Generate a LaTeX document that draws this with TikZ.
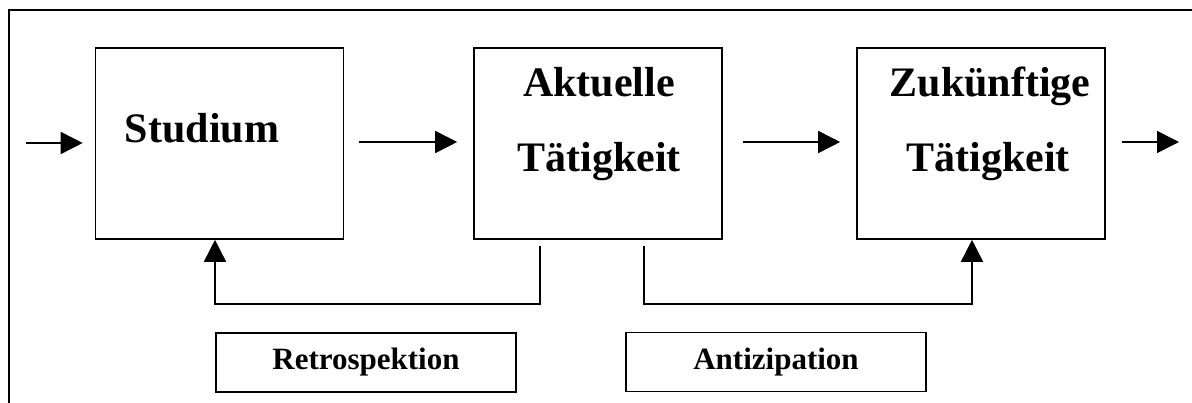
\documentclass[tikz,border=0pt]{standalone}
\usepackage{fontspec}
\setmainfont{Liberation Serif}
\usetikzlibrary{arrows.meta}
\begin{document}
\begin{tikzpicture}[x=1pt,y=-1pt,
  stagebox/.style={draw,line width=1.6pt,minimum width=248pt,minimum height=191pt,inner sep=0pt},
  tagbox/.style={draw,line width=1.4pt,minimum width=300pt,minimum height=59pt,inner sep=0pt,
    font=\bfseries\fontsize{31}{36}\selectfont},
  bigtext/.style={anchor=base,inner sep=0pt,font=\bfseries\fontsize{42}{48}\selectfont},
  flow/.style={line width=1.6pt,-{Triangle[length=22pt,width=22pt]}},
  link/.style={line width=1.6pt}]
\useasboundingbox (0,0) rectangle (1192,403);

% outer frame (top and left edges)
\draw[line width=1.8pt] (1192,10) -- (9,10) -- (9,403);

% the three stages
\node[stagebox] (studium) at (219.5,143.5) {};
\node[stagebox] (aktuell) at (598,143.5) {};
\node[stagebox] (zukunft) at (981,143.5) {};

\node[bigtext] (tStudium) at (202,143) {Studium};
\node[bigtext] (tAkt1) at (599,97) {Aktuelle};
\node[bigtext] (tAkt2) at (599,172) {Tätigkeit};
\node[bigtext] (tZuk1) at (990,97) {Zukünftige};
\node[bigtext] (tZuk2) at (988,172) {Tätigkeit};

% labels below
\node[tagbox] (retro) at (366,362.5) {Retrospektion};
\node[tagbox] (anti) at (776,362) {Antizipation};

% main flow
\coordinate (inStart) at (26,143);
\coordinate (outEnd) at (1179,142);
\draw[flow,shorten >=12pt] (inStart) -- (inStart -| studium.west);
\draw[flow,shorten <=15pt,shorten >=16pt] (studium.east |- 0,142) -- (aktuell.west |- 0,142);
\draw[flow,shorten <=20pt,shorten >=16pt] (aktuell.east |- 0,142) -- (zukunft.west |- 0,142);
\draw[flow,shorten <=16pt] (zukunft.east |- outEnd) -- (outEnd);

% feedback loops
\coordinate (retroStart) at (540,246);
\coordinate (retroCorner) at (215,304);
\draw[flow] (retroStart) |- (retroCorner) -- (retroCorner |- studium.south);

\coordinate (antiStart) at (644,246);
\coordinate (antiCorner) at (972,304);
\draw[flow] (antiStart) |- (antiCorner) -- (antiCorner |- zukunft.south);
\end{tikzpicture}
\end{document}
